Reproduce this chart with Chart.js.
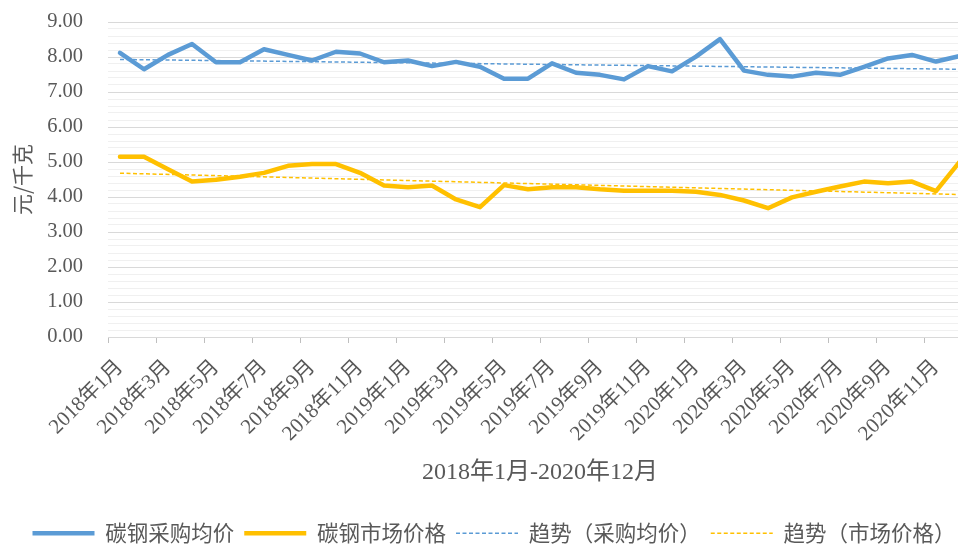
<!DOCTYPE html>
<html lang="zh-CN">
<head>
  <meta charset="UTF-8" />
  <title>碳钢采购均价与市场价格</title>
  <script src="https://cdn.jsdelivr.net/npm/chart.js"></script>
  <style>
    html, body {
      margin: 0;
      padding: 0;
      width: 958px;
      height: 545px;
      overflow: hidden;
      background: #fff;
    }
    canvas {
      display: block;
    }
  </style>
</head>
<body>
  <canvas id="grafico" width="1001" height="554"></canvas>

  <script>
    const meses = [
      '2018年1月', '2018年2月', '2018年3月', '2018年4月', '2018年5月', '2018年6月',
      '2018年7月', '2018年8月', '2018年9月', '2018年10月', '2018年11月', '2018年12月',
      '2019年1月', '2019年2月', '2019年3月', '2019年4月', '2019年5月', '2019年6月',
      '2019年7月', '2019年8月', '2019年9月', '2019年10月', '2019年11月', '2019年12月',
      '2020年1月', '2020年2月', '2020年3月', '2020年4月', '2020年5月', '2020年6月',
      '2020年7月', '2020年8月', '2020年9月', '2020年10月', '2020年11月', '2020年12月'
    ];

    // 碳钢采购均价 (元/千克)
    const caigou = [
      8.12, 7.65, 8.06, 8.37, 7.85, 7.85, 8.22, 8.06, 7.90, 8.15, 8.10, 7.85,
      7.90, 7.74, 7.86, 7.72, 7.38, 7.38, 7.82, 7.55, 7.49, 7.36, 7.74, 7.59,
      8.01, 8.51, 7.61, 7.49, 7.44, 7.55, 7.49, 7.72, 7.96, 8.06, 7.87, 8.03
    ];

    // 碳钢市场价格 (元/千克)
    const shichang = [
      5.15, 5.15, 4.79, 4.44, 4.49, 4.58, 4.69, 4.89, 4.94, 4.94, 4.69, 4.33,
      4.28, 4.33, 3.93, 3.71, 4.34, 4.22, 4.28, 4.28, 4.22, 4.18, 4.18, 4.18,
      4.15, 4.06, 3.90, 3.68, 3.99, 4.15, 4.30, 4.44, 4.39, 4.44, 4.17, 5.02
    ];

    // 趋势线 起点 / 终点
    const trendCaigou = [7.93, 7.65];
    const trendShichang = [4.68, 4.07];

    const yTicks = [0, 1, 2, 3, 4, 5, 6, 7, 8, 9];

    // 趋势线只给首尾两个点, 中间留空, 用 spanGaps 连成直线
    function linhaTendencia(ini, fim) {
      return meses.map((m, i) => i === 0 ? ini : (i === meses.length - 1 ? fim : null));
    }

    const fonteSerif = "'Liberation Serif', 'Noto Sans CJK SC', serif";
    const fonteCJK = "'Noto Sans CJK SC', 'Liberation Sans', sans-serif";
    const cinzaTexto = '#595959';

    const ehInteiro = v => Math.abs(v - Math.round(v)) < 1e-6;

    // legenda: copia tracejado e espessura do dataset
    function gerarLegenda(chart) {
      const itens = Chart.defaults.plugins.legend.labels.generateLabels(chart);
      return itens.map(it => {
        const ds = chart.data.datasets[it.datasetIndex];
        it.lineDash = ds.borderDash || [];
        it.lineWidth = ds.borderWidth;
        it.strokeStyle = ds.borderColor;
        it.lineCap = 'butt';
        return it;
      });
    }

    // empurra a legenda um pouco para a direita (centro do gráfico original)
    const ajusteLegenda = {
      id: 'ajusteLegenda',
      beforeDraw(chart) {
        if (chart.legend) chart.legend.left = 16;
      }
    };

    new Chart(document.getElementById('grafico').getContext('2d'), {
      type: 'line',
      data: {
        labels: meses,
        datasets: [
          {
            label: '碳钢采购均价',
            data: caigou,
            borderColor: '#5b9bd5',
            backgroundColor: '#5b9bd5',
            borderWidth: 4.5,
            pointRadius: 0,
            tension: 0,
            borderCapStyle: 'round',
            borderJoinStyle: 'round'
          },
          {
            label: '碳钢市场价格',
            data: shichang,
            borderColor: '#ffc000',
            backgroundColor: '#ffc000',
            borderWidth: 4.5,
            pointRadius: 0,
            tension: 0,
            borderCapStyle: 'round',
            borderJoinStyle: 'round'
          },
          {
            label: '趋势（采购均价）',
            data: linhaTendencia(trendCaigou[0], trendCaigou[1]),
            borderColor: '#5b9bd5',
            backgroundColor: '#5b9bd5',
            borderWidth: 1.5,
            borderDash: [4, 2.5],
            pointRadius: 0,
            spanGaps: true
          },
          {
            label: '趋势（市场价格）',
            data: linhaTendencia(trendShichang[0], trendShichang[1]),
            borderColor: '#ffc000',
            backgroundColor: '#ffc000',
            borderWidth: 1.5,
            borderDash: [4, 2.5],
            pointRadius: 0,
            spanGaps: true
          }
        ]
      },
      options: {
        responsive: false,
        animation: false,
        devicePixelRatio: 1,
        layout: {
          padding: { top: 22, right: 29, left: 0, bottom: 0 }
        },
        plugins: {
          tooltip: { enabled: false },
          legend: {
            position: 'bottom',
            labels: {
              usePointStyle: true,
              pointStyle: 'line',
              pointStyleWidth: 62,
              padding: 10,
              color: cinzaTexto,
              font: { family: fonteCJK, size: 21.5 },
              generateLabels: gerarLegenda
            }
          }
        },
        scales: {
          x: {
            type: 'category',
            offset: true,
            afterFit: s => { s.height = 175.5; },
            grid: {
              offset: true,
              drawOnChartArea: false,
              drawTicks: true,
              tickLength: 6,
              color: ctx => (ctx.index % 2 === 0 ? '#bfbfbf' : 'rgba(0,0,0,0)')
            },
            border: { display: true, color: '#d9d9d9' },
            ticks: {
              autoSkip: false,
              maxRotation: 45,
              minRotation: 45,
              padding: 12,
              color: cinzaTexto,
              font: { family: fonteSerif, size: 21 },
              callback: (v, i) => (i % 2 === 0 ? meses[i] : '')
            },
            title: {
              display: true,
              text: '2018年1月-2020年12月',
              color: cinzaTexto,
              font: { family: fonteSerif, size: 24 },
              padding: { top: 0, bottom: 25.5 }
            }
          },
          y: {
            min: 0,
            max: 9,
            afterFit: s => { s.width = 108; },
            grid: {
              drawTicks: true,
              tickLength: 22,
              tickColor: 'rgba(0,0,0,0)',
              color: ctx => (ehInteiro(ctx.tick.value) ? '#d9d9d9' : '#f0f0f0')
            },
            border: { display: false },
            ticks: {
              stepSize: 0.2,
              autoSkip: false,
              padding: 3,
              color: cinzaTexto,
              font: { family: fonteSerif, size: 20.5 },
              callback: v => (ehInteiro(v) && yTicks.includes(Math.round(v)) ? Math.round(v).toFixed(2) : '')
            },
            title: {
              display: true,
              text: '元/千克',
              color: cinzaTexto,
              font: { family: fonteCJK, size: 21 },
              padding: { top: 9, bottom: 0 }
            }
          }
        }
      },
      plugins: [ajusteLegenda]
    });
  </script>
</body>
</html>
